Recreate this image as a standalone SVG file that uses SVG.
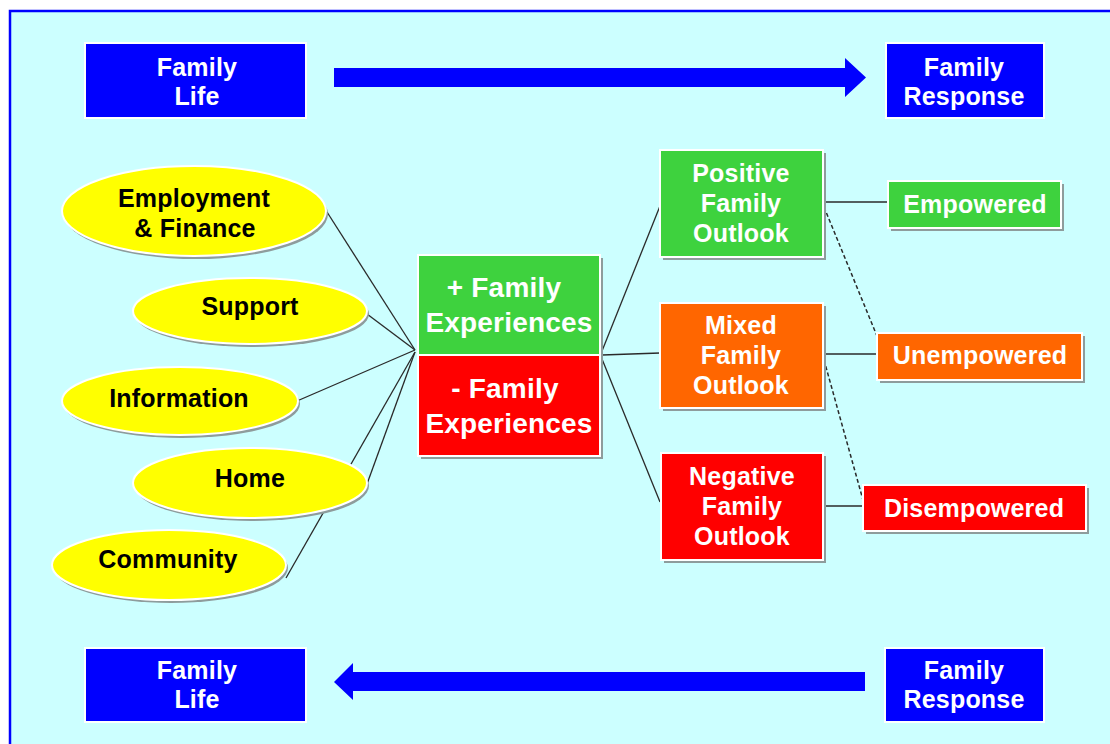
<svg xmlns="http://www.w3.org/2000/svg" width="1110" height="744" viewBox="0 0 1110 744">
<style>
.t{font-family:"Liberation Sans",Arial,sans-serif;font-weight:bold;text-anchor:middle}
.w{fill:#FFFFFF}
.k{fill:#000000}
.s24{font-size:25px;letter-spacing:0.2px}
.s27{font-size:28px;letter-spacing:0.2px}
.box{stroke:#FFFFFF;stroke-width:2}
.blue{fill:#0000FF}
.green{fill:#3ED23E}
.orange{fill:#FF6600}
.red{fill:#FF0000}
.sh{fill:#8E9C9C}
.ell{fill:#FFFF00;stroke:#FFFFFF;stroke-width:2}
.ln{stroke:#2A2A2A;stroke-width:1.3;fill:none}
.dash{stroke-dasharray:4 2.5;stroke-width:1.5}
</style>
<rect x="0" y="0" width="1110" height="744" fill="#FFFFFF"/>
<rect x="10" y="11" width="1120" height="760" fill="#CCFFFF" stroke="#0000FF" stroke-width="2.5"/>

<g id="connectors">
<line class="ln" x1="327" y1="212" x2="415" y2="350"/>
<line class="ln" x1="367" y1="314" x2="415" y2="350"/>
<line class="ln" x1="297" y1="401" x2="415" y2="350"/>
<line class="ln" x1="367" y1="484" x2="415" y2="352"/>
<line class="ln" x1="286" y1="578" x2="415" y2="352"/>
<line class="ln" x1="602" y1="351" x2="660" y2="206"/>
<line class="ln" x1="602" y1="355" x2="660" y2="353"/>
<line class="ln" x1="602" y1="359" x2="660" y2="502"/>
<line class="ln" x1="824" y1="202" x2="888" y2="202"/>
<line class="ln dash" x1="824" y1="207" x2="877" y2="336"/>
<line class="ln" x1="824" y1="354" x2="877" y2="354"/>
<line class="ln dash" x1="824" y1="360" x2="863" y2="500"/>
<line class="ln" x1="824" y1="506" x2="863" y2="506"/>
<polygon id="arrow-top" class="blue" points="334,68 845,68 845,58 866,77.5 845,97 845,87 334,87"/>
<polygon id="arrow-bottom" class="blue" points="865,672 353,672 353,663 334,682 353,700 353,691 865,691"/>
</g>

<g id="family-life-top">
<rect class="box blue" x="85" y="43" width="221" height="75"/>
<text class="t w s24" x="197" y="76">Family</text>
<text class="t w s24" x="197" y="105">Life</text>
</g>
<g id="family-response-top">
<rect class="box blue" x="886" y="43" width="158" height="75"/>
<text class="t w s24" x="964" y="76">Family</text>
<text class="t w s24" x="964" y="105">Response</text>
</g>
<g id="family-life-bottom">
<rect class="box blue" x="85" y="648" width="221" height="74"/>
<text class="t w s24" x="197" y="679">Family</text>
<text class="t w s24" x="197" y="708">Life</text>
</g>
<g id="family-response-bottom">
<rect class="box blue" x="885" y="648" width="159" height="74"/>
<text class="t w s24" x="964" y="679">Family</text>
<text class="t w s24" x="964" y="708">Response</text>
</g>

<g id="employment">
<ellipse class="sh" cx="196" cy="214" rx="132" ry="45"/>
<ellipse class="ell" cx="194" cy="211" rx="132" ry="45"/>
<text class="t k s24" x="194" y="207">Employment</text>
<text class="t k s24" x="195" y="237">&amp; Finance</text>
</g>
<g id="support">
<ellipse class="sh" cx="252" cy="314" rx="117" ry="33"/>
<ellipse class="ell" cx="250" cy="311" rx="117" ry="33"/>
<text class="t k s24" x="250" y="315">Support</text>
</g>
<g id="information">
<ellipse class="sh" cx="182" cy="404" rx="118" ry="34"/>
<ellipse class="ell" cx="180" cy="401" rx="118" ry="34"/>
<text class="t k s24" x="179" y="407">Information</text>
</g>
<g id="home">
<ellipse class="sh" cx="252" cy="486" rx="117" ry="35"/>
<ellipse class="ell" cx="250" cy="483" rx="117" ry="35"/>
<text class="t k s24" x="250" y="487">Home</text>
</g>
<g id="community">
<ellipse class="sh" cx="171" cy="568" rx="117" ry="35"/>
<ellipse class="ell" cx="169" cy="565" rx="117" ry="35"/>
<text class="t k s24" x="168" y="568">Community</text>
</g>

<g id="plus-experiences">
<rect class="sh" x="421" y="258" width="182" height="201"/>
<rect class="box green" x="418" y="255" width="182" height="100"/>
<text class="t w s27" x="504" y="297">+ Family</text>
<text class="t w s27" x="509" y="332">Experiences</text>
</g>
<g id="minus-experiences">
<rect class="box red" x="418" y="355" width="182" height="101"/>
<text class="t w s27" x="505" y="398">- Family</text>
<text class="t w s27" x="509" y="433">Experiences</text>
</g>

<g id="positive-outlook">
<rect class="sh" x="663" y="153" width="163" height="107"/>
<rect class="box green" x="660" y="150" width="163" height="107"/>
<text class="t w s24" x="741" y="182">Positive</text>
<text class="t w s24" x="741" y="212">Family</text>
<text class="t w s24" x="741" y="242">Outlook</text>
</g>
<g id="mixed-outlook">
<rect class="sh" x="663" y="306" width="163" height="105"/>
<rect class="box orange" x="660" y="303" width="163" height="105"/>
<text class="t w s24" x="741" y="334">Mixed</text>
<text class="t w s24" x="741" y="364">Family</text>
<text class="t w s24" x="741" y="394">Outlook</text>
</g>
<g id="negative-outlook">
<rect class="sh" x="664" y="456" width="162" height="107"/>
<rect class="box red" x="661" y="453" width="162" height="107"/>
<text class="t w s24" x="742" y="485">Negative</text>
<text class="t w s24" x="742" y="515">Family</text>
<text class="t w s24" x="742" y="545">Outlook</text>
</g>

<g id="empowered">
<rect class="sh" x="891" y="184" width="173" height="47"/>
<rect class="box green" x="888" y="181" width="173" height="47"/>
<text class="t w s24" x="975" y="213">Empowered</text>
</g>
<g id="unempowered">
<rect class="sh" x="880" y="336" width="205" height="47"/>
<rect class="box orange" x="877" y="333" width="205" height="47"/>
<text class="t w s24" x="980" y="364">Unempowered</text>
</g>
<g id="disempowered">
<rect class="sh" x="866" y="488" width="223" height="46"/>
<rect class="box red" x="863" y="485" width="223" height="46"/>
<text class="t w s24" x="974" y="517">Disempowered</text>
</g>
</svg>
